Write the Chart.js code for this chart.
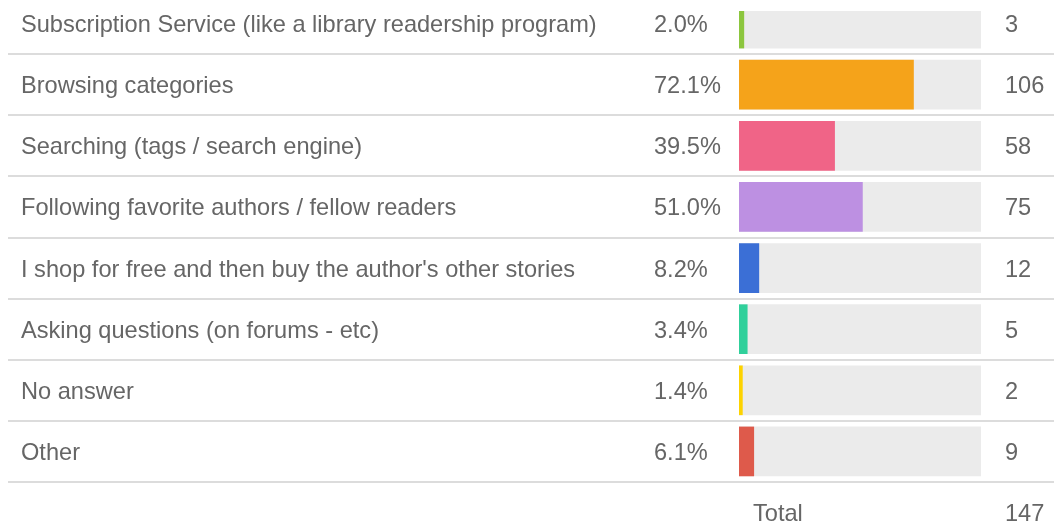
<!DOCTYPE html>
<html>
<head>
<meta charset="utf-8">
<script src="https://cdn.jsdelivr.net/npm/chart.js@4/dist/chart.umd.min.js"></script>
<style>
    html, body { margin: 0; padding: 0; background: #fff; overflow: hidden; }
    #wrap { position: absolute; left: 0; top: -7px; width: 1054px; height: 534px; }
</style>
</head>
<body>
<div id="wrap"><canvas id="grafico"></canvas></div>
<script>
// Respuestas de la encuesta
const respuestas = [
    'Subscription Service (like a library readership program)',
    'Browsing categories',
    'Searching (tags / search engine)',
    'Following favorite authors / fellow readers',
    "I shop for free and then buy the author's other stories",
    'Asking questions (on forums - etc)',
    'No answer',
    'Other'
];
const porcentajes = [2.0, 72.1, 39.5, 51.0, 8.2, 3.4, 1.4, 6.1];
const conteos = [3, 106, 58, 75, 12, 5, 2, 9];
const total = 147;
const maximo = 100;
const colores = ['#8cc63e', '#f5a31a', '#f06487', '#bd90e2', '#3b6fd6', '#30d09b', '#fdd300', '#de5a4b'];

const fuente = '23.6px "Liberation Sans", Arial, sans-serif';
const gris = '#666666';

// Plugin para recortar la primera fila (la imagen está cortada arriba)
const recorte = {
    id: 'recorte',
    beforeDatasetsDraw(chart) {
        const ctx = chart.ctx;
        ctx.save();
        ctx.beginPath();
        ctx.rect(0, 18, chart.width, chart.height);
        ctx.clip();
    },
    afterDatasetsDraw(chart) {
        chart.ctx.restore();
    }
};

// Plugin para textos y separadores de la tabla
const tabla = {
    id: 'tabla',
    afterDraw(chart) {
        const ctx = chart.ctx;
        const y = chart.scales.y;
        const paso = y.getPixelForValue(1) - y.getPixelForValue(0);
        ctx.save();
        ctx.font = fuente;
        ctx.textBaseline = 'middle';
        ctx.textAlign = 'left';
        respuestas.forEach((r, i) => {
            const cy = y.getPixelForValue(i);
            ctx.fillStyle = gris;
            ctx.fillText(r, 21, cy + 2);
            ctx.fillText(porcentajes[i].toFixed(1) + '%', 654, cy + 2);
            ctx.fillText(String(conteos[i]), 1005, cy + 2);
            // separador
            ctx.fillStyle = '#dcdcdc';
            ctx.fillRect(8, Math.round(cy + paso / 2) - 1, chart.width - 8, 2);
        });
        const yTotal = y.getPixelForValue(respuestas.length - 1) + paso;
        ctx.fillStyle = gris;
        ctx.fillText('Total', 753, yTotal + 2);
        ctx.fillText(String(total), 1005, yTotal + 2);
        ctx.restore();
    }
};

const ctx = document.getElementById('grafico').getContext('2d');
new Chart(ctx, {
    type: 'bar',
    data: {
        labels: respuestas,
        datasets: [
            {
                data: porcentajes,
                backgroundColor: colores,
                borderWidth: 0,
                grouped: false,
                barThickness: 49,
                order: 1
            },
            {
                data: respuestas.map(() => maximo),
                backgroundColor: '#ebebeb',
                borderWidth: 0,
                grouped: false,
                barThickness: 49,
                order: 2
            }
        ]
    },
    options: {
        indexAxis: 'y',
        responsive: true,
        maintainAspectRatio: false,
        animation: false,
        layout: { padding: { left: 739, right: 73, top: 0, bottom: 45 } },
        plugins: { legend: { display: false }, tooltip: { enabled: false } },
        scales: {
            x: { display: false, min: 0, max: maximo },
            y: { display: false }
        }
    },
    plugins: [recorte, tabla]
});
</script>
</body>
</html>
